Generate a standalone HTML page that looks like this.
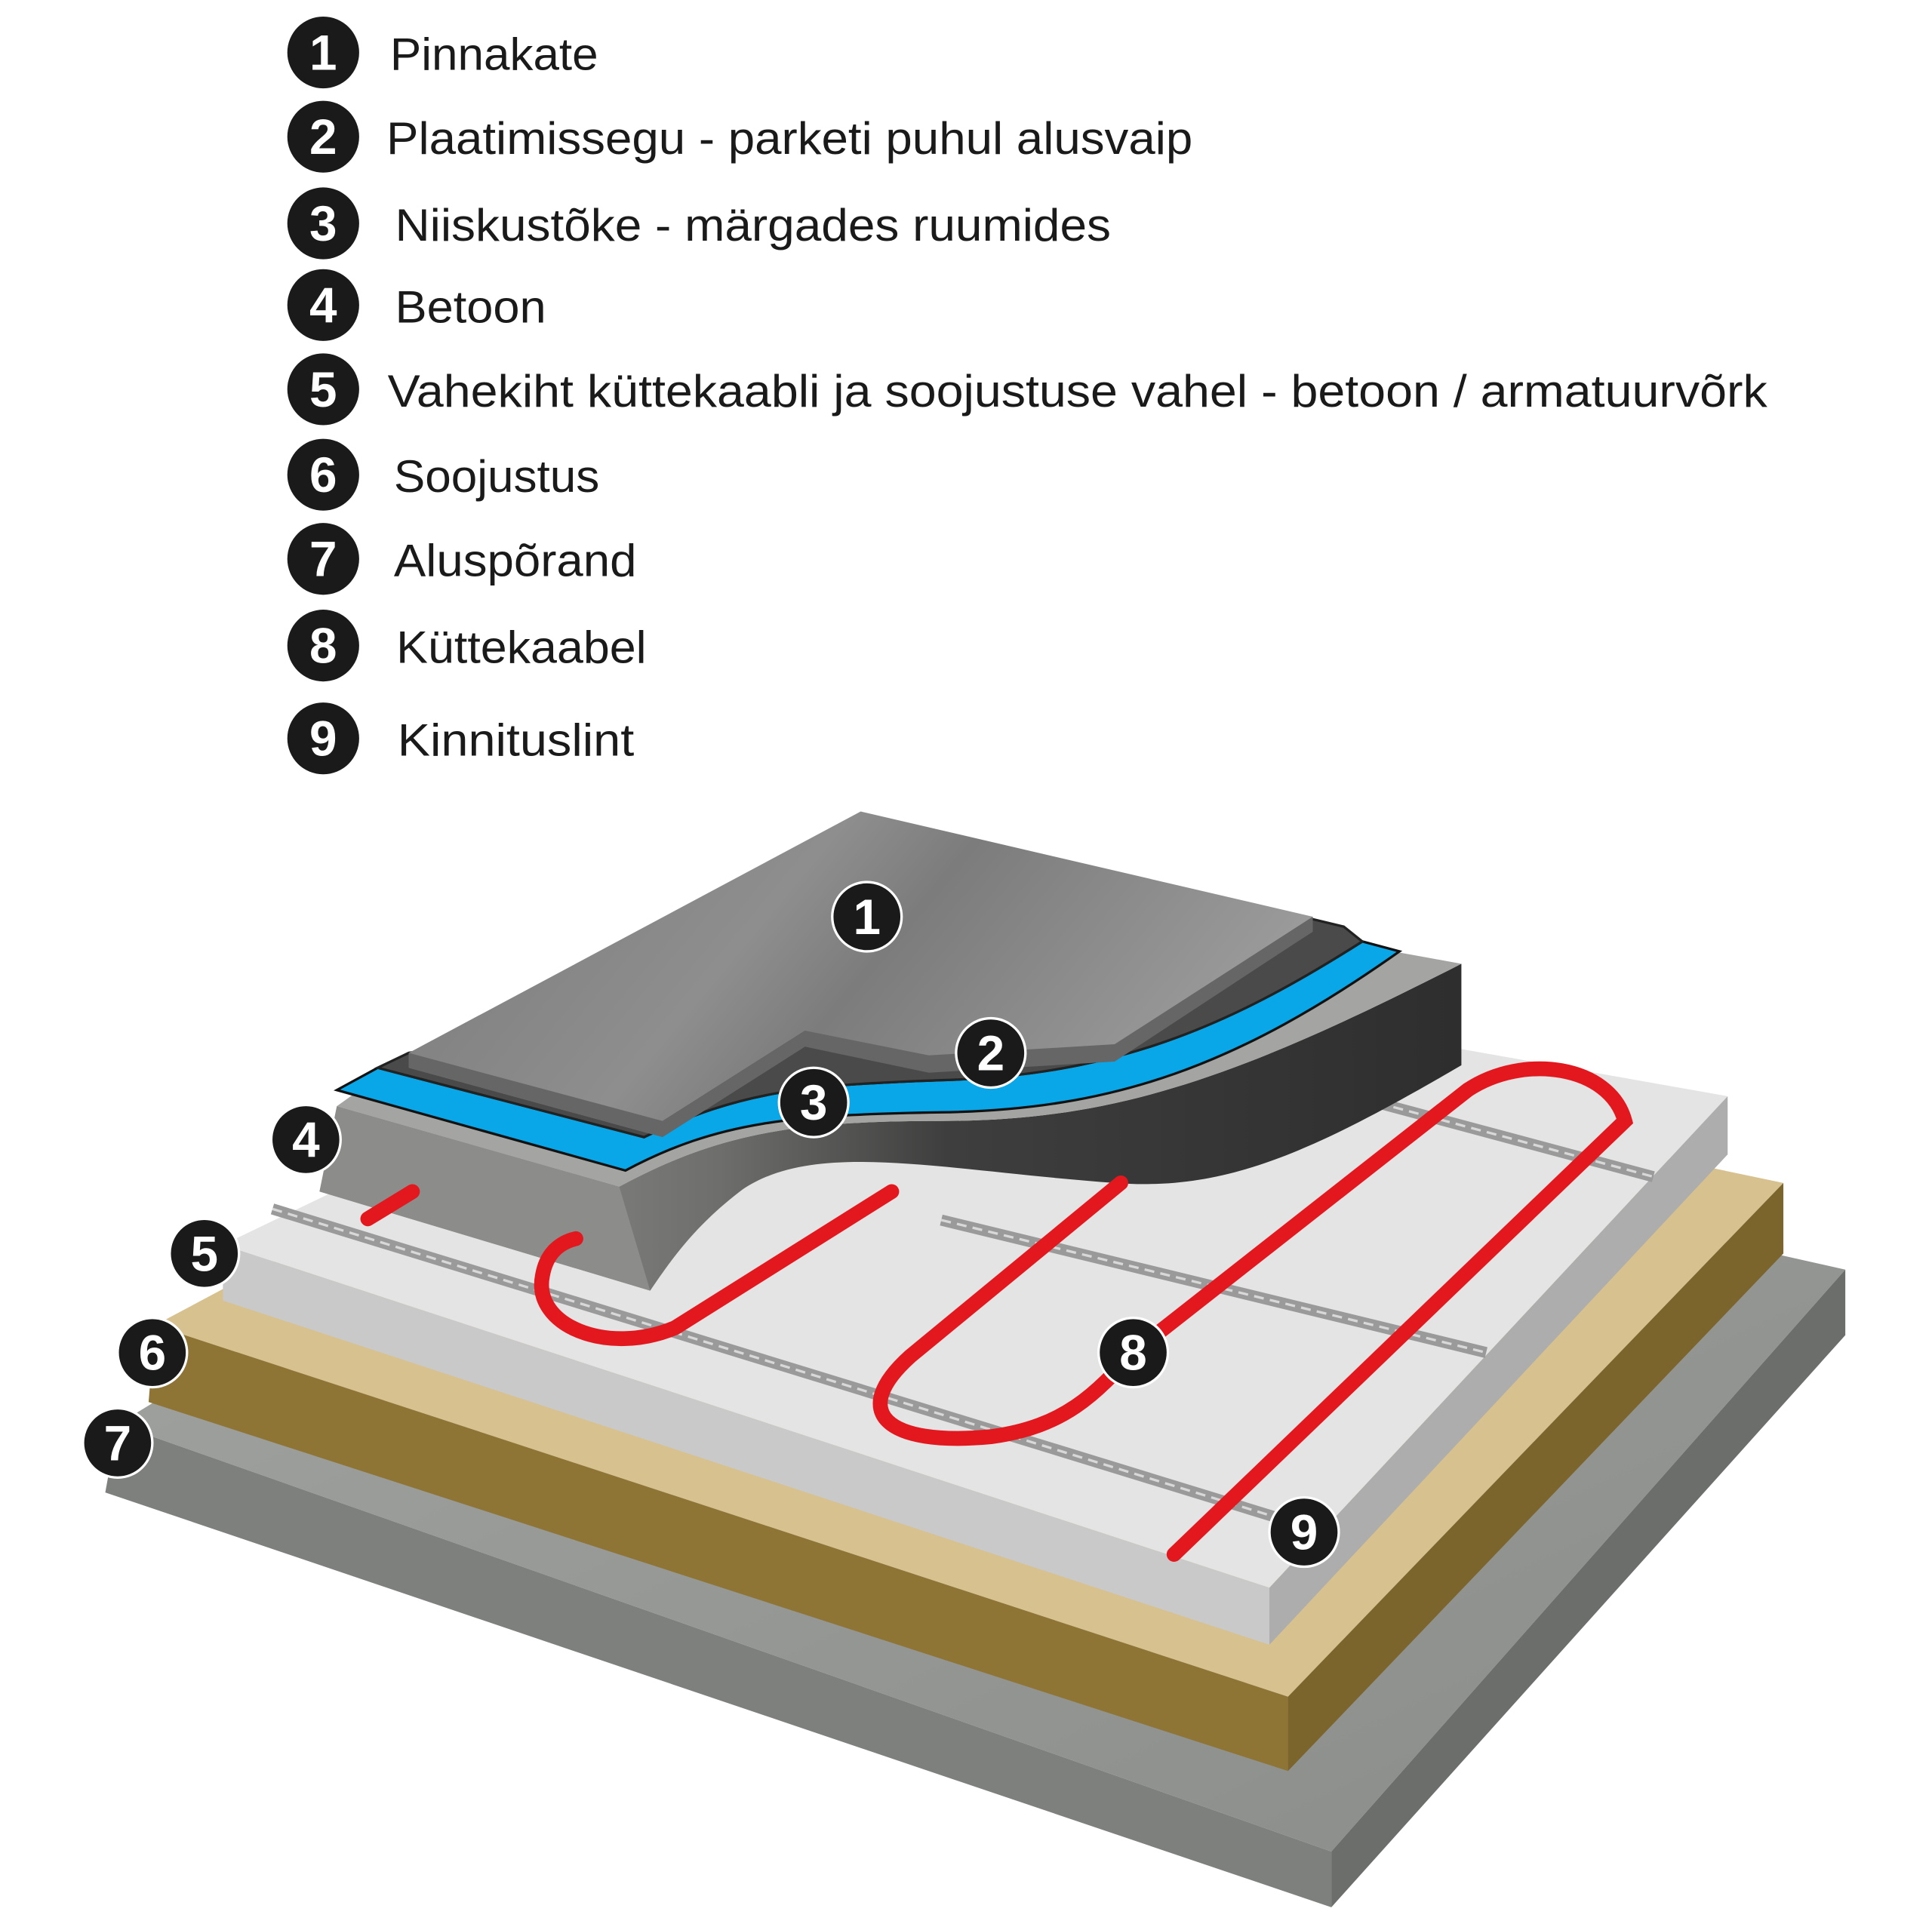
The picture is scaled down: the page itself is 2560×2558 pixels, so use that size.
<!DOCTYPE html>
<html><head><meta charset="utf-8"><style>
html,body{margin:0;padding:0;background:#fff;}
svg{display:block;}
</style></head><body>
<svg width="2560" height="2558" viewBox="0 0 1560 1558" xmlns="http://www.w3.org/2000/svg">
<defs>
<linearGradient id="tile" x1="0" y1="0" x2="1" y2="0.3">
<stop offset="0" stop-color="#7a7a7a"/><stop offset="0.45" stop-color="#8e8e8e"/><stop offset="0.6" stop-color="#7c7c7c"/><stop offset="1" stop-color="#9a9a9a"/></linearGradient>
<linearGradient id="conc" x1="0" y1="0" x2="1" y2="0">
<stop offset="0" stop-color="#9a9a98"/><stop offset="0.35" stop-color="#6e6e6c"/><stop offset="0.55" stop-color="#3e3e3e"/><stop offset="1" stop-color="#2e2e2e"/></linearGradient>
<linearGradient id="base" x1="0" y1="0" x2="1" y2="1">
<stop offset="0" stop-color="#a3a5a3"/><stop offset="1" stop-color="#8a8c8a"/></linearGradient>
</defs>
<g font-family="'Liberation Sans', sans-serif" fill="#1a1a1a" font-size="37">
<g fill="#1a1a1a">
<circle cx="261" cy="42" r="29"/><circle cx="261" cy="110" r="29"/><circle cx="261" cy="180" r="29"/>
<circle cx="261" cy="246" r="29"/><circle cx="261" cy="314" r="29"/><circle cx="261" cy="383" r="29"/>
<circle cx="261" cy="451" r="29"/><circle cx="261" cy="521" r="29"/><circle cx="261" cy="596" r="29"/>
</g>
<g fill="#fff" font-weight="bold" font-size="40" text-anchor="middle">
<text x="261" y="56">1</text><text x="261" y="124">2</text><text x="261" y="194">3</text>
<text x="261" y="260">4</text><text x="261" y="328">5</text><text x="261" y="397">6</text>
<text x="261" y="465">7</text><text x="261" y="535">8</text><text x="261" y="610">9</text>
</g>
<text x="315" y="56" textLength="168" lengthAdjust="spacingAndGlyphs">Pinnakate</text>
<text x="312" y="124" textLength="651" lengthAdjust="spacingAndGlyphs">Plaatimissegu - parketi puhul alusvaip</text>
<text x="319" y="194" textLength="578" lengthAdjust="spacingAndGlyphs">Niiskustõke - märgades ruumides</text>
<text x="319" y="260" textLength="122" lengthAdjust="spacingAndGlyphs">Betoon</text>
<text x="313" y="328" textLength="1114" lengthAdjust="spacingAndGlyphs">Vahekiht küttekaabli ja soojustuse vahel - betoon / armatuurvõrk</text>
<text x="318" y="397" textLength="166" lengthAdjust="spacingAndGlyphs">Soojustus</text>
<text x="318" y="465" textLength="196" lengthAdjust="spacingAndGlyphs">Aluspõrand</text>
<text x="320" y="535" textLength="202" lengthAdjust="spacingAndGlyphs">Küttekaabel</text>
<text x="321" y="610" textLength="191" lengthAdjust="spacingAndGlyphs">Kinnituslint</text>
</g>

<!-- Layer 7 base -->
<polygon points="95,1150 620,830 1490,1025 1075,1495" fill="url(#base)"/>
<polygon points="95,1150 1075,1495 1075,1540 85,1205" fill="#7e807e"/>
<polygon points="1075,1495 1490,1025 1490,1078 1075,1540" fill="#6c6e6c"/>
<!-- Layer 6 insulation -->
<polygon points="125,1070 650,790 1440,955 1040,1370" fill="#d7c18e"/>
<polygon points="125,1070 1040,1370 1040,1430 120,1132" fill="#8f7535"/>
<polygon points="1040,1370 1440,955 1440,1012 1040,1430" fill="#7c652d"/>
<!-- Layer 5 board -->
<polygon points="180,1005 690,760 1395,885 1025,1282" fill="#e4e4e4"/>
<polygon points="180,1005 1025,1282 1025,1328 180,1050" fill="#c9c9c9"/>
<polygon points="1025,1282 1395,885 1395,932 1025,1328" fill="#adadad"/>
<!-- tapes -->
<g stroke="#9a9a9a" stroke-width="9" fill="none">
<line x1="220" y1="976" x2="1040" y2="1228"/>
<line x1="760" y1="985" x2="1200" y2="1092"/>
<line x1="1100" y1="887" x2="1335" y2="950"/>
</g>
<g stroke="#d8d8d8" stroke-width="2" stroke-dasharray="8 5" fill="none">
<line x1="220" y1="976" x2="1040" y2="1228"/>
<line x1="760" y1="985" x2="1200" y2="1092"/>
<line x1="1100" y1="887" x2="1335" y2="950"/>
</g>
<!-- Layer 4 concrete slab -->
<path d="M272,893 L500,958 C580,915 640,905 760,905 C900,905 1000,870 1180,778 L1180,860 C1060,930 990,962 900,955 C760,945 660,920 600,960 C560,990 540,1020 525,1042 L258,962 Z" fill="url(#conc)"/>
<path d="M272,893 L500,958 L525,1042 L258,962 Z" fill="#8c8d8b"/>
<path d="M272,893 L500,958 C580,915 640,905 760,905 C900,905 1000,870 1180,778 L1125,768 C1000,840 900,880 760,885 C650,888 600,895 520,930 L300,873 Z" fill="#a4a5a3"/>
<!-- Layer 3 blue -->
<path d="M272,880 L505,945 C580,905 640,900 760,898 C900,896 1000,860 1130,768 L1100,760 C990,830 900,868 760,872 C650,876 600,880 520,918 L305,862 Z" fill="#0aa7e8" stroke="#111" stroke-width="2"/>
<!-- Layer 2 dark -->
<path d="M305,862 L520,918 C600,880 650,876 760,872 C900,868 990,830 1100,760 L1085,748 L1060,742 L330,850 Z" fill="#4a4a4a" stroke="#222" stroke-width="2"/>
<!-- Layer 1 tile -->
<path d="M330,850 L695,655 L1060,740 L1060,752 L900,855 L750,865 L650,832 L535,905 L535,918 L330,862 Z" fill="url(#tile)"/>
<path d="M330,850 L535,905 L650,832 L750,852 L900,843 L1060,740 L1060,752 L900,857 L750,866 L650,845 L535,918 L330,862 Z" fill="#666"/>
<!-- cable -->
<g fill="none" stroke="#e3181f" stroke-width="12" stroke-linecap="round">
<line x1="297" y1="984" x2="333" y2="962"/>
<path d="M720,962 L545,1072 C490,1095 430,1070 438,1030 C441,1012 452,1003 465,1000"/>
<path d="M905,955 L735,1095 C685,1140 715,1168 800,1160 C860,1152 885,1125 915,1092 L1185,880 C1230,850 1300,860 1312,905 L948,1255"/>
</g>
<!-- markers -->
<g fill="#1a1a1a" stroke="#fff" stroke-width="2">
<circle cx="700" cy="740" r="28"/><circle cx="800" cy="850" r="28"/><circle cx="657" cy="890" r="28"/>
<circle cx="247" cy="920" r="28"/><circle cx="165" cy="1012" r="28"/><circle cx="123" cy="1092" r="28"/>
<circle cx="95" cy="1165" r="28"/><circle cx="915" cy="1092" r="28"/><circle cx="1053" cy="1237" r="28"/>
</g>
<g fill="#fff" font-family="'Liberation Sans', sans-serif" font-weight="bold" font-size="40" text-anchor="middle">
<text x="700" y="754">1</text><text x="800" y="864">2</text><text x="657" y="904">3</text>
<text x="247" y="934">4</text><text x="165" y="1026">5</text><text x="123" y="1106">6</text>
<text x="95" y="1179">7</text><text x="915" y="1106">8</text><text x="1053" y="1251">9</text>
</g>
</svg>
</body></html>
